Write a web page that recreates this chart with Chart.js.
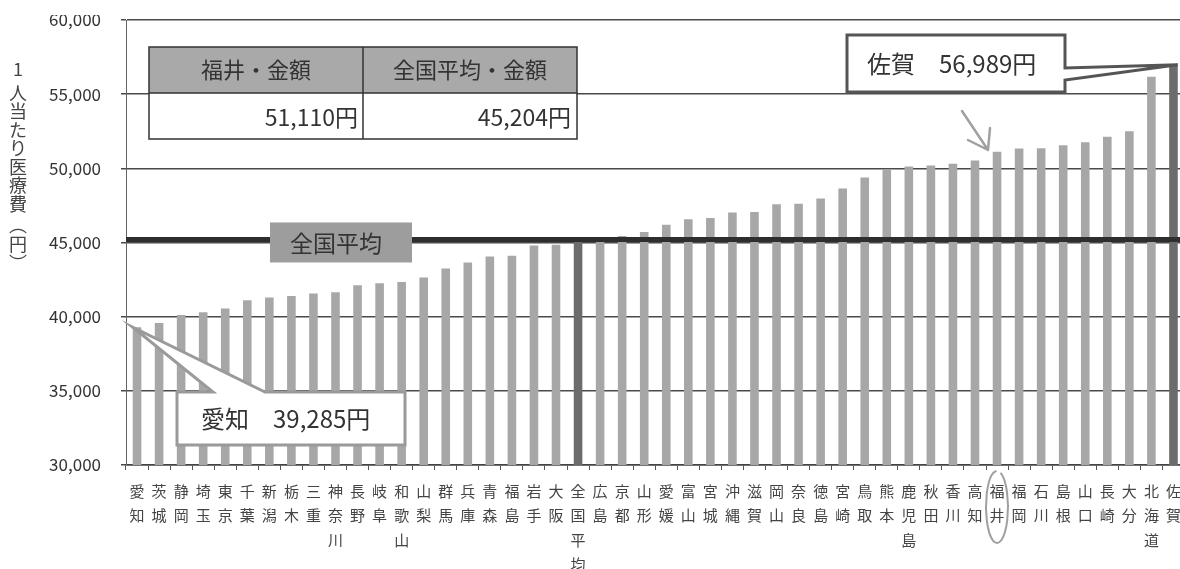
<!DOCTYPE html>
<html><head><meta charset="utf-8">
<script src="https://cdn.jsdelivr.net/npm/chart.js@4"></script>
<style>
html,body{margin:0;padding:0;overflow:hidden;background:#fff;}
#wrap{position:relative;width:1190px;height:580px;}
</style></head><body>
<div id="wrap"><canvas id="c"></canvas></div>
<script>
const categories = ['愛知','茨城','静岡','埼玉','東京','千葉','新潟','栃木','三重','神奈川','長野','岐阜','和歌山','山梨','群馬','兵庫','青森','福島','岩手','大阪','全国平均','広島','京都','山形','愛媛','富山','宮城','沖縄','滋賀','岡山','奈良','徳島','宮崎','鳥取','熊本','鹿児島','秋田','香川','高知','福井','福岡','石川','島根','山口','長崎','大分','北海道','佐賀'];
const costs = [39285,39580,40120,40300,40550,41100,41290,41400,41570,41640,42120,42260,42330,42640,43250,43650,44050,44100,44800,44850,45204,45300,45440,45710,46200,46570,46660,47030,47060,47580,47620,47960,48640,49380,49900,50120,50190,50310,50530,51110,51330,51360,51560,51760,52130,52500,56170,56989];
const average = 45204;
const yTicks = [30000,35000,40000,45000,50000,55000,60000];
const axisTitle = '1人当たり医療費（円）';
const tableHeaders = ['福井・金額','全国平均・金額'];
const tableKeys = ['福井','全国平均'];
const highlighted = ['全国平均','佐賀'];
const calloutKeys = ['愛知','佐賀'];
const avgLabel = '全国平均';

const FONT = "'Noto Sans CJK JP','Noto Sans',sans-serif";
const fmt = v => v.toLocaleString('en-US');
const valueOf = k => costs[categories.indexOf(k)];

const overlay = {
  id: 'overlay',
  afterDraw(chart) {
    const ctx = chart.ctx, ys = chart.scales.y, area = chart.chartArea;
    const meta = chart.getDatasetMeta(0);
    ctx.save();
    // cut top of first tick label like the scan
    ctx.fillStyle = '#fff';
    ctx.fillRect(0, 0, 118, 15);

    // average line
    const ay = ys.getPixelForValue(average);
    ctx.strokeStyle = '#2e2e2e';
    ctx.lineWidth = 5;
    ctx.beginPath(); ctx.moveTo(area.left, ay); ctx.lineTo(area.right, ay); ctx.stroke();

    // average label box
    ctx.fillStyle = '#9d9d9d';
    ctx.fillRect(270, ay - 17, 142, 40);
    ctx.fillStyle = '#333';
    ctx.font = '23px ' + FONT;
    ctx.textAlign = 'center'; ctx.textBaseline = 'middle';
    ctx.fillText(avgLabel, 336, ay + 4);

    // table
    const T = {x:149, y:47, w:428, h1:46, h2:46, split:363};
    ctx.fillStyle = '#a9a9a9'; ctx.fillRect(T.x, T.y, T.w, T.h1);
    ctx.fillStyle = '#fff'; ctx.fillRect(T.x, T.y + T.h1, T.w, T.h2);
    ctx.strokeStyle = '#333'; ctx.lineWidth = 1.5;
    ctx.strokeRect(T.x, T.y, T.w, T.h1 + T.h2);
    ctx.beginPath();
    ctx.moveTo(T.x, T.y + T.h1); ctx.lineTo(T.x + T.w, T.y + T.h1);
    ctx.moveTo(T.split, T.y); ctx.lineTo(T.split, T.y + T.h1 + T.h2);
    ctx.stroke();
    ctx.fillStyle = '#333'; ctx.font = '22px ' + FONT;
    ctx.textAlign = 'center';
    ctx.fillText(tableHeaders[0], (T.x + T.split) / 2, T.y + T.h1 / 2);
    ctx.fillText(tableHeaders[1], (T.split + T.x + T.w) / 2, T.y + T.h1 / 2);
    ctx.font = '23px ' + FONT; ctx.textAlign = 'right';
    ctx.fillText(fmt(valueOf(tableKeys[0])) + '円', T.split - 5, T.y + T.h1 + T.h2 / 2 + 1);
    ctx.fillText(fmt(valueOf(tableKeys[1])) + '円', T.x + T.w - 6, T.y + T.h1 + T.h2 / 2 + 1);

    // Aichi callout
    const iA = categories.indexOf(calloutKeys[0]);
    const bA = meta.data[iA];
    const tipA = {x: bA.x - bA.width / 2, y: ys.getPixelForValue(costs[iA])};
    ctx.beginPath();
    ctx.moveTo(177, 392); ctx.lineTo(213, 392); ctx.lineTo(tipA.x, tipA.y);
    ctx.lineTo(265, 392); ctx.lineTo(405, 392); ctx.lineTo(405, 445); ctx.lineTo(177, 445);
    ctx.closePath();
    ctx.fillStyle = '#fff'; ctx.fill();
    ctx.strokeStyle = '#9a9a9a'; ctx.lineWidth = 3; ctx.lineJoin = 'miter'; ctx.stroke();
    ctx.fillStyle = '#333'; ctx.font = '24px ' + FONT; ctx.textAlign = 'left';
    ctx.fillText(calloutKeys[0] + '\u3000' + fmt(costs[iA]) + '円', 201, 419);

    // Saga callout
    const iS = categories.indexOf(calloutKeys[1]);
    const bS = meta.data[iS];
    const tipS = {x: bS.x + bS.width / 2, y: ys.getPixelForValue(costs[iS])};
    ctx.beginPath();
    ctx.moveTo(847, 35); ctx.lineTo(1065, 35); ctx.lineTo(1065, 68); ctx.lineTo(tipS.x, tipS.y);
    ctx.lineTo(1065, 80); ctx.lineTo(1065, 92); ctx.lineTo(847, 92);
    ctx.closePath();
    ctx.fillStyle = '#fff'; ctx.fill();
    ctx.strokeStyle = '#555'; ctx.lineWidth = 3; ctx.stroke();
    ctx.fillStyle = '#333'; ctx.font = '24px ' + FONT;
    ctx.fillText(calloutKeys[1] + '\u3000' + fmt(costs[iS]) + '円', 867, 64);

    // pencil arrow toward Fukui
    ctx.strokeStyle = '#a0a0a0'; ctx.lineWidth = 2.5; ctx.lineCap = 'round';
    ctx.beginPath();
    ctx.moveTo(962, 111); ctx.lineTo(988, 150);
    ctx.moveTo(988, 150); ctx.lineTo(968, 140);
    ctx.moveTo(988, 150); ctx.lineTo(990, 128);
    ctx.stroke();
    // pencil circle round the Fukui label
    ctx.lineWidth = 2;
    ctx.beginPath();
    ctx.ellipse(997, 507, 11, 36, 0, -1.2, 4.6);
    ctx.stroke();

    // vertical y-axis title, upright characters
    ctx.fillStyle = '#444'; ctx.font = '18px ' + FONT;
    ctx.textAlign = 'center'; ctx.textBaseline = 'middle';
    const chars = [...axisTitle].map(c => c === '（' ? '︵' : c === '）' ? '︶' : c);
    let y = 69;
    chars.forEach((c, k) => {
      ctx.fillText(c, 18, y);
      let step = 18.5;
      if (c === '1') step = 24;
      if (c === '費') step = 21;
      if (c === '︵' || c === '円') step = 19;
      y += step;
    });
    ctx.restore();
  }
};

new Chart(document.getElementById('c'), {
  type: 'bar',
  data: {
    labels: categories.map(s => [...s]),
    datasets: [{
      data: costs,
      backgroundColor: categories.map(c => highlighted.includes(c) ? '#6c6c6c' : '#a7a7a7'),
      borderWidth: 0,
      barPercentage: 0.39,
      categoryPercentage: 1.0
    }]
  },
  options: {
    responsive: true,
    maintainAspectRatio: false,
    animation: false,
    devicePixelRatio: 1,
    layout: {padding: {left: 0, top: 20, right: 4, bottom: 0}},
    plugins: {legend: {display: false}, tooltip: {enabled: false}, title: {display: false}},
    scales: {
      x: {
        grid: {offset: true, drawOnChartArea: false, drawTicks: true, tickLength: 5, color: '#555', lineWidth: 1},
        border: {display: true, color: '#444', width: 1.5},
        ticks: {autoSkip: false, maxRotation: 0, minRotation: 0, padding: 9, color: '#444',
                font: {family: FONT, size: 15, lineHeight: 1.63}},
        afterFit: s => { s.height = 115; }
      },
      y: {
        z: 1,
        min: 30000, max: 60000,
        afterBuildTicks: s => { s.ticks = yTicks.map(v => ({value: v})); },
        grid: {color: '#4a4a4a', lineWidth: 1.5, tickLength: 5, drawTicks: true},
        border: {display: true, color: '#666', width: 1},
        ticks: {padding: 20, color: '#333', font: {family: FONT, size: 17}, callback: v => fmt(v)},
        afterFit: s => { s.width = 126; s.paddingTop = 0; }
      }
    }
  },
  plugins: [overlay]
});
</script>
</body></html>
